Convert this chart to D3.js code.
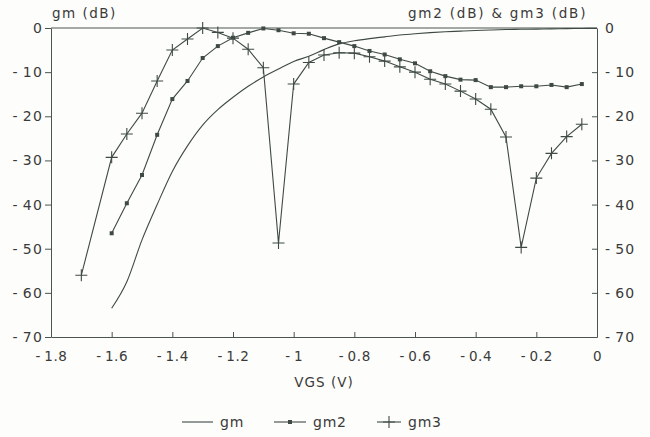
<!DOCTYPE html>
<html>
<head>
<meta charset="UTF-8">
<script src="https://cdn.jsdelivr.net/npm/d3@7"></script>
<style>
  body { margin: 0; background: #fdfdfb; overflow: hidden; }
  svg { display: block; }
  svg text { font-family: "DejaVu Sans", Verdana, sans-serif; fill: #3a3a3a; }
  .axis path, .axis line { stroke: #4a5550; }
</style>
</head>
<body>
<script>
// VGS (V) sample points for gm
const vgs = [-1.6, -1.55, -1.5, -1.45, -1.4, -1.35, -1.3, -1.25, -1.2, -1.15, -1.1, -1.05,
  -1.0, -0.95, -0.9, -0.85, -0.8, -0.75, -0.7, -0.65, -0.6, -0.55, -0.5, -0.45, -0.4,
  -0.35, -0.3, -0.25, -0.2, -0.15, -0.1, -0.05, 0];
const gm = [-63.5, -57.5, -48, -40, -32.5, -26.7, -22, -18.5, -15.7, -13.2, -11.1, -9.3,
  -7.6, -6.4, -4.9, -3.6, -2.9, -2.4, -2.0, -1.6, -1.3, -1.05, -0.85, -0.7, -0.55,
  -0.45, -0.35, -0.3, -0.25, -0.2, -0.15, -0.1, -0.05];
// gm2 stops at -0.05
const vgs2 = vgs.slice(0, -1);
const gm2 = [-46.5, -39.7, -33.3, -24.2, -16.1, -12, -6.8, -4.1, -2.2, -1.1, -0.1, -0.5,
  -1.2, -1.3, -2.3, -3.2, -4.1, -5.2, -6.0, -7.1, -8.0, -9.8, -10.9, -11.7, -11.8,
  -13.4, -13.4, -13.2, -13.2, -12.9, -13.4, -12.7];
// gm3 has one extra point at -1.7 and stops at -0.05
const vgs3 = [-1.7].concat(vgs2);
const gm3 = [-56, -29.3, -24, -19.3, -12, -5, -2.5, 0, -1, -2.3, -4.8, -9, -48.7,
  -12.7, -7.8, -6.1, -5.6, -5.7, -6.5, -7.5, -8.8, -10, -11.6, -12.7, -14.3, -16.1,
  -18.4, -24.7, -49.7, -34, -28.4, -24.6, -21.8];

const xTicks = [-1.8, -1.6, -1.4, -1.2, -1, -0.8, -0.6, -0.4, -0.2, 0];
const yTicks = [0, -10, -20, -30, -40, -50, -60, -70];

const W = 650, H = 437;
const ink = "#3f4a45";

const svg = d3.select("body").append("svg")
  .attr("width", W).attr("height", H);

const x = d3.scaleLinear().domain([-1.8, 0]).range([51, 597]);
const y = d3.scaleLinear().domain([-70, 0]).range([337, 28]);

const fmt = d => d < 0 ? "-\u2009" + String(Math.abs(d)) : String(d);

// frame top
svg.append("line")
  .attr("x1", x(-1.8)).attr("x2", x(0))
  .attr("y1", y(0)).attr("y2", y(0))
  .attr("stroke", "#4a5550");

// bottom axis, ticks pointing up
svg.append("g").attr("class", "axis")
  .attr("transform", `translate(0,${y(-70)})`)
  .call(d3.axisBottom(x).tickValues(xTicks).tickSize(-5).tickSizeOuter(0).tickFormat(fmt))
  .call(g => g.selectAll("text").attr("dy", "1.55em").attr("font-size", 13.5)
    .attr("letter-spacing", 0.6));

// left axis
svg.append("g").attr("class", "axis")
  .attr("transform", `translate(${x(-1.8)},0)`)
  .call(d3.axisLeft(y).tickValues(yTicks).tickSize(6).tickSizeOuter(0).tickFormat(fmt))
  .call(g => g.selectAll("text").attr("x", -8).attr("font-size", 14)
    .attr("letter-spacing", 1.2));

// right axis, ticks pointing in
svg.append("g").attr("class", "axis")
  .attr("transform", `translate(${x(0)},0)`)
  .call(d3.axisRight(y).tickValues(yTicks).tickSize(-5).tickSizeOuter(0).tickFormat(fmt))
  .call(g => g.selectAll("text").attr("x", 8).attr("font-size", 14)
    .attr("letter-spacing", 1.2));

// axis titles
svg.append("text").attr("x", 52).attr("y", 18).attr("font-size", 13.5)
  .attr("letter-spacing", 1.5).text("gm (dB)");
svg.append("text").attr("x", 408).attr("y", 18).attr("font-size", 13.5)
  .attr("letter-spacing", 1.8).text("gm2 (dB) & gm3 (dB)");
svg.append("text").attr("x", (x(-1.8) + x(0)) / 2).attr("y", 387).attr("font-size", 13.5)
  .attr("letter-spacing", 1).attr("text-anchor", "middle").text("VGS (V)");

const line = d3.line().x(d => x(d[0])).y(d => y(d[1]));
const pts = (xs, ys) => xs.map((v, i) => [v, ys[i]]);

const plot = svg.append("g").attr("fill", "none").attr("stroke", ink).attr("stroke-width", 1.1);

plot.append("path").attr("d", line.curve(d3.curveMonotoneX)(pts(vgs, gm)));
line.curve(d3.curveLinear);
plot.append("path").attr("d", line(pts(vgs2, gm2)));
plot.append("path").attr("d", line(pts(vgs3, gm3)));

// gm2 dots
svg.append("g").selectAll("rect")
  .data(pts(vgs2, gm2)).join("rect")
  .attr("x", d => x(d[0]) - 2).attr("y", d => y(d[1]) - 2)
  .attr("width", 4).attr("height", 4).attr("fill", ink);

// gm3 crosses
const cross = s => `M${-s},0H${s}M0,${-s}V${s}`;
svg.append("g").attr("stroke", ink).attr("stroke-width", 1.1)
  .selectAll("path")
  .data(pts(vgs3, gm3)).join("path")
  .attr("transform", d => `translate(${x(d[0])},${y(d[1])})`)
  .attr("d", cross(6));

// legend
const legend = [
  {name: "gm", x0: 182, x1: 213, mark: null},
  {name: "gm2", x0: 274, x1: 306, mark: "dot"},
  {name: "gm3", x0: 377, x1: 401, mark: "cross"}
];
const lg = svg.append("g").selectAll("g").data(legend).join("g");
lg.append("line")
  .attr("x1", d => d.x0).attr("x2", d => d.x1)
  .attr("y1", 422).attr("y2", 422)
  .attr("stroke", ink).attr("stroke-width", 1.1);
lg.filter(d => d.mark === "dot").append("rect")
  .attr("x", d => (d.x0 + d.x1) / 2 - 2).attr("y", 420)
  .attr("width", 4).attr("height", 4).attr("fill", ink);
lg.filter(d => d.mark === "cross").append("path")
  .attr("transform", d => `translate(${(d.x0 + d.x1) / 2},422)`)
  .attr("d", cross(6)).attr("stroke", ink).attr("stroke-width", 1.1);
lg.append("text")
  .attr("x", d => d.x1 + 7).attr("y", 427).attr("font-size", 14)
  .attr("letter-spacing", 0.8)
  .text(d => d.name);
</script>
</body>
</html>
